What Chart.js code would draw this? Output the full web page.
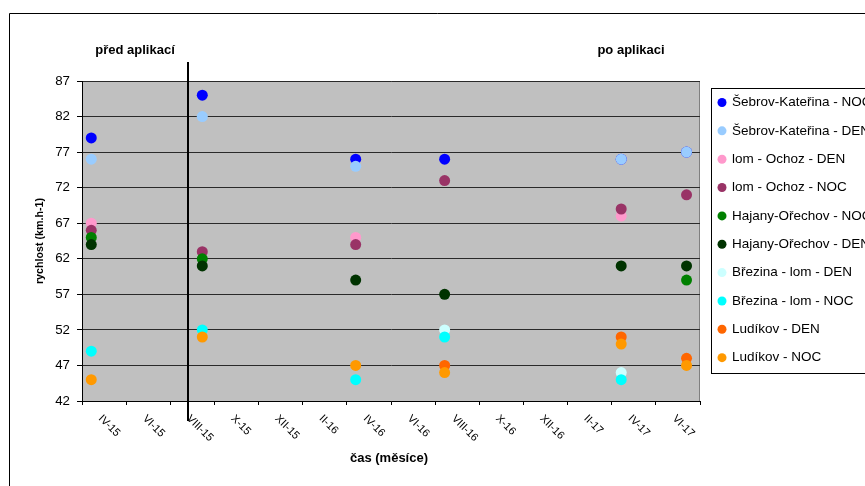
<!DOCTYPE html>
<html><head><meta charset="utf-8">
<script src="https://cdn.jsdelivr.net/npm/chart.js@4.4.0/dist/chart.umd.min.js"></script>
<style>html,body{margin:0;padding:0;background:#fff;}#wrap{width:865px;height:486px;position:relative;}</style>
</head><body><div id="wrap"><canvas id="c"></canvas></div>
<script>
// measurement times, in months counted from 1 April 2015
const xMonths = [0.42, 5.45, 12.40, 16.43, 24.43, 27.39];
const xTickMonths = [0, 2, 4, 6, 8, 10, 12, 14, 16, 18, 20, 22, 24, 26, 28];
const xTickLabels = ['IV-15','VI-15','VIII-15','X-15','XII-15','II-16','IV-16','VI-16','VIII-16','X-16','XII-16','II-17','IV-17','VI-17'];
const yTicks = [42, 47, 52, 57, 62, 67, 72, 77, 82, 87];
const dividerMonth = 4.8;
const periodLabels = ['před aplikací', 'po aplikaci'];

const seriesNames = ['Šebrov-Kateřina - NOC','Šebrov-Kateřina - DEN','lom - Ochoz - DEN','lom - Ochoz - NOC','Hajany-Ořechov - NOC','Hajany-Ořechov - DEN','Březina - lom - DEN','Březina - lom - NOC','Ludíkov - DEN','Ludíkov - NOC'];
const seriesColors = ['#0000FF','#99CCFF','#FF99CC','#993366','#008000','#003300','#CCFFFF','#00FFFF','#FF6600','#FF9900'];

const sebrovNoc   = [79, 85, 76, 76, 76, 77];
const sebrovDen   = [76, 82, 75, null, 76, 77];
const ochozDen    = [67, null, 65, null, 68, null];
const ochozNoc    = [66, 63, 64, 73, 69, 71];
const hajanyNoc   = [65, 62, null, null, null, 59];
const hajanyDen   = [64, 61, 59, 57, 61, 61];
const brezinaDen  = [null, null, null, 52, 46, null];
const brezinaNoc  = [49, 52, 45, 51, 45, null];
const ludikovDen  = [null, null, null, 47, 51, 48];
const ludikovNoc  = [45, 51, 47, 46, 50, 47];

const seriesValues = [sebrovNoc, sebrovDen, ochozDen, ochozNoc, hajanyNoc, hajanyDen, brezinaDen, brezinaNoc, ludikovDen, ludikovNoc];

const FONT = "'Liberation Sans', Arial, sans-serif";

const datasets = seriesNames.map((name, i) => ({
  label: name,
  data: xMonths.map((m, j) => ({x: m, y: seriesValues[i][j]})).filter(p => p.y !== null),
  backgroundColor: seriesColors[i],
  borderColor: seriesColors[i],
  pointRadius: 5.5,
  pointBorderWidth: 0,
  showLine: false,
  order: seriesNames.length - i
}));

const decor = {
  id: 'decor',
  beforeDraw(chart) {
    const {ctx, chartArea: a} = chart;
    ctx.save();
    ctx.fillStyle = '#fff';
    ctx.fillRect(0, 0, chart.width, chart.height);
    // outer frame
    ctx.strokeStyle = '#000';
    ctx.lineWidth = 1;
    ctx.beginPath();
    ctx.moveTo(9.5, 486); ctx.lineTo(9.5, 13.5); ctx.lineTo(866, 13.5);
    ctx.stroke();
    // plot area
    ctx.fillStyle = '#C0C0C0';
    ctx.fillRect(a.left, a.top, a.right - a.left, a.bottom - a.top);
    ctx.strokeStyle = '#808080';
    ctx.beginPath();
    ctx.moveTo(a.left, a.top + 0.5); ctx.lineTo(a.right - 0.5, a.top + 0.5); ctx.lineTo(a.right - 0.5, a.bottom);
    ctx.stroke();
    ctx.restore();
  },
  afterDraw(chart) {
    const {ctx, chartArea: a} = chart;
    const xs = chart.scales.x;
    ctx.save();
    // divider line
    const dx = Math.round(xs.getPixelForValue(dividerMonth));
    ctx.strokeStyle = '#000';
    ctx.lineWidth = 2;
    ctx.beginPath();
    ctx.moveTo(dx, 62); ctx.lineTo(dx, 421);
    ctx.stroke();
    // period labels
    ctx.fillStyle = '#000';
    ctx.font = 'bold 13px ' + FONT;
    ctx.textAlign = 'center';
    ctx.textBaseline = 'middle';
    ctx.fillText(periodLabels[0], 135, 50);
    ctx.fillText(periodLabels[1], 631, 50);
    // x tick labels (rotated)
    ctx.font = '11px ' + FONT;
    ctx.textAlign = 'left';
    ctx.textBaseline = 'top';
    xTickLabels.forEach((lab, i) => {
      const cx = xs.getPixelForValue((xTickMonths[i] + xTickMonths[i + 1]) / 2);
      ctx.save();
      ctx.translate(cx, 413);
      ctx.rotate(Math.PI / 4);
      ctx.fillText(lab, 0, 0);
      ctx.restore();
    });
    // x title
    ctx.font = 'bold 13px ' + FONT;
    ctx.textAlign = 'center';
    ctx.textBaseline = 'middle';
    ctx.fillText('čas (měsíce)', (a.left + a.right) / 2 - 2, 458);
    // legend
    ctx.strokeStyle = '#000';
    ctx.lineWidth = 1;
    ctx.strokeRect(711.5, 88.5, 200, 285);
    ctx.font = '13.5px ' + FONT;
    ctx.textAlign = 'left';
    ctx.textBaseline = 'middle';
    seriesNames.forEach((name, i) => {
      const y = 102.5 + i * 28.35;
      ctx.fillStyle = seriesColors[i];
      ctx.beginPath();
      ctx.arc(722, y, 4.5, 0, Math.PI * 2);
      ctx.fill();
      ctx.fillStyle = '#000';
      ctx.fillText(name, 732, y);
    });
    ctx.restore();
  }
};

new Chart(document.getElementById('c'), {
  type: 'scatter',
  data: {datasets},
  options: {
    responsive: true,
    maintainAspectRatio: false,
    animation: false,
    events: [],
    layout: {padding: {top: 81, right: 165, left: 0, bottom: 0}},
    plugins: {legend: {display: false}, tooltip: {enabled: false}, title: {display: false}},
    scales: {
      x: {
        type: 'linear',
        min: 0, max: 28,
        afterBuildTicks: s => { s.ticks = xTickMonths.map(v => ({value: v})); },
        afterFit: s => { s.height = 85; },
        ticks: {display: false},
        grid: {display: true, drawOnChartArea: false, drawTicks: true, tickLength: 4, color: '#000', tickColor: '#000'},
        border: {display: true, color: '#000', width: 1}
      },
      y: {
        type: 'linear',
        min: 42, max: 87,
        afterBuildTicks: s => { s.ticks = yTicks.map(v => ({value: v})); },
        afterFit: s => { s.width = 82; },
        ticks: {font: {family: FONT, size: 13.3}, color: '#000', padding: 7},
        grid: {color: '#2a2a2a', lineWidth: 1, tickLength: 5, tickColor: '#000'},
        border: {display: true, color: '#000', width: 1},
        title: {display: true, text: 'rychlost (km.h-1)', color: '#000', font: {family: FONT, size: 10.7, weight: 'bold'}, padding: {top: 34, bottom: 0}}
      }
    }
  },
  plugins: [decor]
});
</script></body></html>
